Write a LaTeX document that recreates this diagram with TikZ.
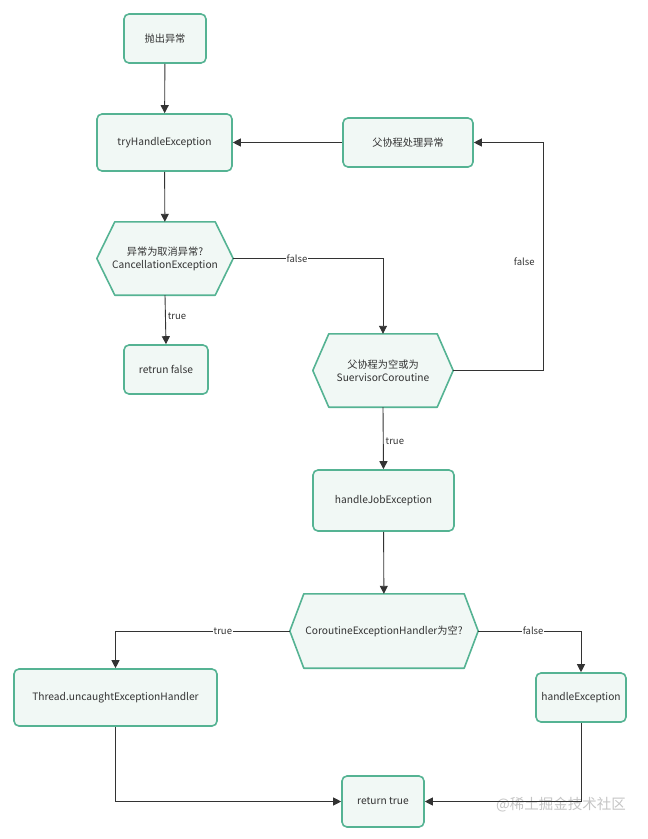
\documentclass[tikz,border=0pt]{standalone}
\usepackage{fontspec}
\setmainfont{Noto Sans CJK SC}
\usetikzlibrary{arrows.meta,backgrounds,calc}
\definecolor{bordergreen}{HTML}{55B393}
\definecolor{fillgreen}{HTML}{F1F8F5}
\definecolor{linec}{HTML}{333333}
\definecolor{txtc}{HTML}{333333}
\definecolor{wmark}{HTML}{C4C4C4}
\newcommand\hexbg[2]{%
  \begin{pgfonlayer}{background}
  \draw[hexshape] ([xshift=#2]#1.north west) -- ([xshift=-#2]#1.north east) -- (#1.east)
    -- ([xshift=-#2]#1.south east) -- ([xshift=#2]#1.south west) -- (#1.west) -- cycle;
  \end{pgfonlayer}}
\begin{document}
\begin{tikzpicture}[x=1pt,y=-1pt,
  box/.style={draw=bordergreen, fill=fillgreen, line width=1.6pt, rounded corners=5pt,
    align=center, text=txtc, font=\fontsize{10.2}{13}\selectfont, inner sep=0pt},
  hexnode/.style={align=center, text=txtc, font=\fontsize{10.2}{13}\selectfont, inner sep=0pt},
  hexshape/.style={draw=bordergreen, fill=fillgreen, line width=1.6pt, line join=round},
  arr/.style={draw=linec, line width=0.9pt, -{Triangle[length=8pt,width=8pt]}},
  lab/.style={fill=white, inner sep=1pt, text=txtc, font=\fontsize{9.5}{11}\selectfont},
  sidelab/.style={inner sep=2pt, text=txtc, font=\fontsize{9.5}{11}\selectfont}]
\useasboundingbox (0,0) rectangle (648,839);

\node[box, minimum width=82pt, minimum height=49pt] (start) at (165,38.5) {抛出异常};
\node[box, minimum width=135pt, minimum height=57pt] (try) at (164.5,142.5) {tryHandleException};
\node[box, minimum width=130pt, minimum height=49pt] (parent) at (408,142.5) {父协程处理异常};
\node[hexnode, minimum width=136pt, minimum height=73pt] (h1) at (165,258.5) {异常为取消异常?\\CancellationException};
\hexbg{h1}{18pt}
\node[box, minimum width=84pt, minimum height=49pt] (rf) at (166,369.5) {retrun false};
\node[hexnode, minimum width=140pt, minimum height=73pt] (h2) at (383,370.5) {父协程为空或为\\SuervisorCoroutine};
\hexbg{h2}{16pt}
\node[box, minimum width=141pt, minimum height=61pt] (hj) at (383.5,500.5) {handleJobException};
\node[hexnode, minimum width=188pt, minimum height=74pt] (h3) at (384,631) {CoroutineExceptionHandler为空?};
\hexbg{h3}{14pt}
\node[box, minimum width=203pt, minimum height=57pt] (th) at (115.5,697.5) {Thread.uncaughtExceptionHandler};
\node[box, minimum width=90pt, minimum height=49pt] (he) at (581,697.5) {handleException};
\node[box, minimum width=82pt, minimum height=51pt] (rt) at (383,801.5) {return true};
\node[text=wmark, font=\fontsize{14.5}{16}\selectfont, anchor=east, inner sep=0pt] (wm) at (626,805) {@稀土掘金技术社区};

\coordinate (c1) at (543,370.5);

\draw[arr] (start) -- (try);
\draw[arr] (try) -- (h1);
\draw[arr] (parent) -- (try);
\draw[arr] (h1.east) -| node[lab, pos=0.213]{false} (h2.north);
\draw[arr] (h1.south) -- node[sidelab, right, pos=0.42]{true} (rf.north);
\draw[arr] (h2.east) -- (c1) |- node[sidelab, left, pos=0.238, xshift=-6pt]{false} (parent.east);
\draw[arr] (h2.south) -- node[sidelab, right, pos=0.55]{true} (hj.north);
\draw[arr] (hj) -- (h3);
\draw[arr] (h3.west) -| node[lab, pos=0.192]{true} (th.north);
\draw[arr] (h3.east) -| node[lab, pos=0.267]{false} (he.north);
\draw[arr] (th.south) |- (rt.west);
\draw[arr] (he.south) |- (rt.east);
\end{tikzpicture}
\end{document}
